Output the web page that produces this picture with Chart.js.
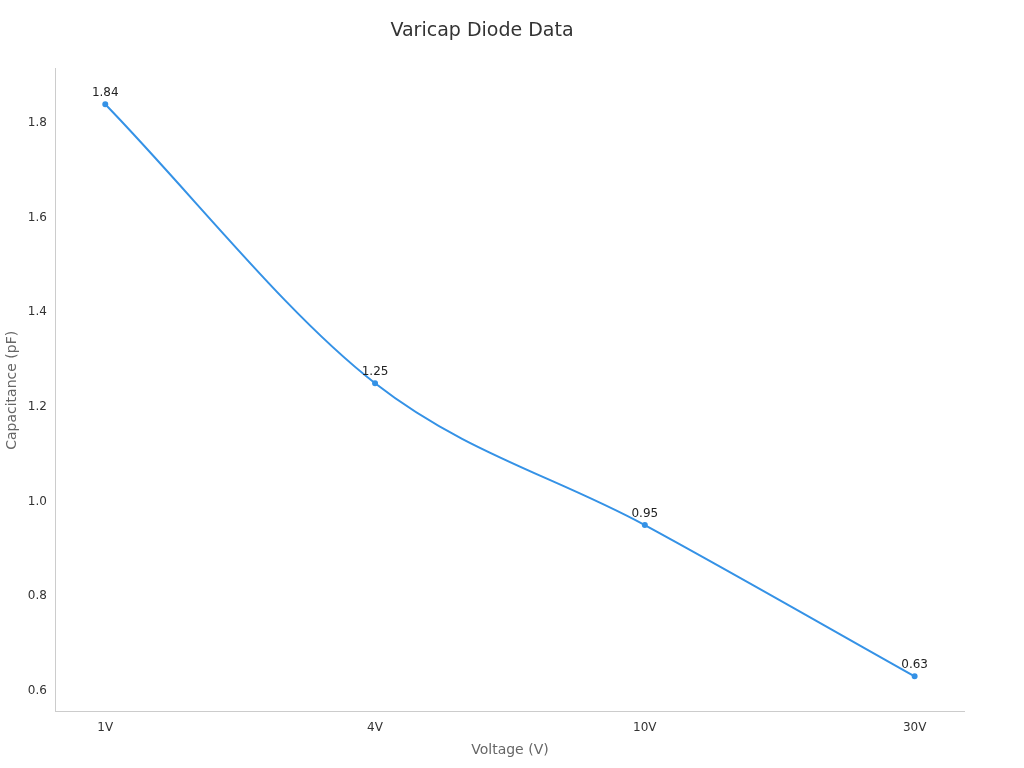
<!DOCTYPE html>
<html>
<head>
<meta charset="utf-8">
<script src="https://cdn.jsdelivr.net/npm/chart.js@4/dist/chart.umd.min.js"></script>
<style>
  html, body { margin: 0; padding: 0; background: #fff; }
  #wrap { width: 1024px; height: 768px; }
</style>
</head>
<body>
<div id="wrap"><canvas id="c"></canvas></div>
<script>
const categories = ['1V', '4V', '10V', '30V'];
const capacitance = [1.84, 1.25, 0.95, 0.63];
const yTicks = [0.6, 0.8, 1, 1.2, 1.4, 1.6, 1.8];

Chart.defaults.font.family = 'DejaVu Sans';

// simple value labels above points
const pointLabels = {
  id: 'pointLabels',
  afterDatasetsDraw(chart) {
    const ctx = chart.ctx;
    const meta = chart.getDatasetMeta(0);
    ctx.save();
    ctx.font = '12px DejaVu Sans';
    ctx.fillStyle = '#222';
    ctx.textAlign = 'center';
    ctx.textBaseline = 'bottom';
    meta.data.forEach(function (pt, i) {
      ctx.fillText(String(capacitance[i]), pt.x, pt.y - 5);
    });
    ctx.restore();
  }
};

new Chart(document.getElementById('c'), {
  type: 'line',
  data: {
    datasets: [{
      data: capacitance.map(function (v, i) { return { x: i, y: v }; }),
      borderColor: '#3592e6',
      backgroundColor: '#3592e6',
      borderWidth: 2,
      pointRadius: 2,
      tension: 0.4,
      cubicInterpolationMode: 'monotone'
    }]
  },
  options: {
    responsive: true,
    maintainAspectRatio: false,
    animation: false,
    layout: { padding: { left: 0, right: 60, top: 10, bottom: 5 } },
    plugins: {
      legend: { display: false },
      tooltip: { enabled: false },
      title: {
        display: true,
        text: 'Varicap Diode Data',
        color: '#333',
        font: { size: 19, weight: 'normal' },
        padding: { top: 10, bottom: 26 }
      }
    },
    scales: {
      x: {
        type: 'linear',
        min: -0.183,
        max: 3.183,
        afterBuildTicks: function (axis) {
          axis.ticks = categories.map(function (c, i) { return { value: i }; });
        },
        ticks: {
          color: '#333',
          font: { size: 12 },
          callback: function (v) { return categories[v]; }
        },
        grid: { display: false, drawTicks: true, tickLength: 6 },
        border: { color: '#ccc' },
        title: { display: true, text: 'Voltage (V)', color: '#666', font: { size: 14 } }
      },
      y: {
        min: 0.555,
        max: 1.915,
        afterBuildTicks: function (axis) {
          axis.ticks = yTicks.map(function (v) { return { value: v }; });
        },
        ticks: { color: '#333', font: { size: 12 } },
        grid: { display: false, tickLength: 6 },
        border: { color: '#ccc' },
        title: { display: true, text: 'Capacitance (pF)', color: '#666', font: { size: 14 } }
      }
    }
  },
  plugins: [pointLabels]
});
</script>
</body>
</html>
